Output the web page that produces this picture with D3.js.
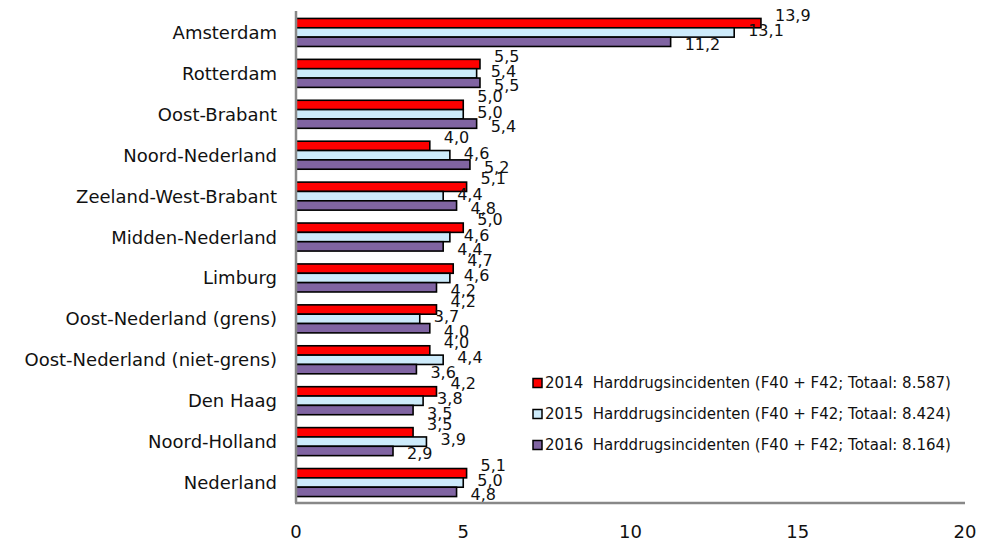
<!DOCTYPE html>
<html>
<head>
<meta charset="utf-8">
<script src="https://cdn.jsdelivr.net/npm/d3@7"></script>
<style>
  body { margin: 0; background: #fff; }
  svg { display: block; font-family: "DejaVu Sans", sans-serif; }
  .bar { stroke: #000; stroke-width: 1.6; }
  .axis-line { stroke: #888; stroke-width: 2.5; }
  .legend-text { white-space: pre; }
</style>
</head>
<body>
<div id="chart"></div>
<script>
// regions, top to bottom
const regions = [
  "Amsterdam", "Rotterdam", "Oost-Brabant", "Noord-Nederland",
  "Zeeland-West-Brabant", "Midden-Nederland", "Limburg",
  "Oost-Nederland (grens)", "Oost-Nederland (niet-grens)",
  "Den Haag", "Noord-Holland", "Nederland"
];

const years = ["2014", "2015", "2016"];
const legendLabels = [
  "2014  Harddrugsincidenten (F40 + F42; Totaal: 8.587)",
  "2015  Harddrugsincidenten (F40 + F42; Totaal: 8.424)",
  "2016  Harddrugsincidenten (F40 + F42; Totaal: 8.164)"
];

const values2014 = [13.9, 5.5, 5.0, 4.0, 5.1, 5.0, 4.7, 4.2, 4.0, 4.2, 3.5, 5.1];
const values2015 = [13.1, 5.4, 5.0, 4.6, 4.4, 4.6, 4.6, 3.7, 4.4, 3.8, 3.9, 5.0];
const values2016 = [11.2, 5.5, 5.4, 5.2, 4.8, 4.4, 4.2, 4.0, 3.6, 3.5, 2.9, 4.8];

const xTicks = [0, 5, 10, 15, 20];

const colors = ["#ff0000", "#cdebfb", "#8064a2"];

const width = 981, height = 543;
const plot = { left: 296, right: 965, top: 12, bottom: 503 };

const svg = d3.select("#chart").append("svg")
  .attr("width", width)
  .attr("height", height);

const xScale = d3.scaleLinear()
  .domain([0, 20])
  .range([plot.left, plot.right]);

const yScale = d3.scaleBand()
  .domain(regions)
  .range([plot.top, plot.bottom])
  .paddingInner(0.315)
  .paddingOuter(0.1575);

const ySub = d3.scaleBand()
  .domain(years)
  .range([0, yScale.bandwidth()]);

const rows = regions.map((r, i) => ({
  region: r,
  vals: [values2014[i], values2015[i], values2016[i]]
}));

// bars
const groups = svg.selectAll("g.region")
  .data(rows)
  .join("g")
    .attr("class", "region")
    .attr("transform", d => `translate(0, ${yScale(d.region)})`);

groups.selectAll("rect")
  .data(d => d.vals.map((v, j) => ({ year: years[j], v, j })))
  .join("rect")
    .attr("class", "bar")
    .attr("x", xScale(0))
    .attr("y", d => ySub(d.year))
    .attr("width", d => xScale(d.v) - xScale(0))
    .attr("height", ySub.bandwidth())
    .attr("fill", d => colors[d.j]);

// value labels, shifted a bit like the original
const labelDy = [-8, -2, 3];
groups.selectAll("text.val")
  .data(d => d.vals.map((v, j) => ({ year: years[j], v, j })))
  .join("text")
    .attr("class", "val")
    .attr("x", d => xScale(d.v) + 14)
    .attr("y", d => ySub(d.year) + ySub.bandwidth() / 2 + labelDy[d.j])
    .attr("dominant-baseline", "central")
    .style("font-size", "16px")
    .style("fill", "#111")
    .text(d => d3.format(".1f")(d.v).replace(".", ","));

// axes lines
svg.append("line")
  .attr("class", "axis-line")
  .attr("x1", plot.left).attr("x2", plot.left)
  .attr("y1", plot.top - 1).attr("y2", plot.bottom);

svg.append("line")
  .attr("class", "axis-line")
  .attr("x1", plot.left - 1).attr("x2", plot.right)
  .attr("y1", plot.bottom).attr("y2", plot.bottom);

// category labels
svg.selectAll("text.cat")
  .data(regions)
  .join("text")
    .attr("class", "cat")
    .attr("x", 277)
    .attr("y", d => yScale(d) + yScale.bandwidth() / 2)
    .attr("text-anchor", "end")
    .attr("dominant-baseline", "central")
    .style("font-size", "18px")
    .style("fill", "#111")
    .text(d => d);

// x tick labels
svg.selectAll("text.tick")
  .data(xTicks)
  .join("text")
    .attr("class", "tick")
    .attr("x", d => xScale(d))
    .attr("y", 531)
    .attr("text-anchor", "middle")
    .attr("dominant-baseline", "central")
    .style("font-size", "18px")
    .style("fill", "#111")
    .text(d => d);

// legend
const legend = svg.append("g")
  .attr("transform", "translate(533, 383)");

const item = legend.selectAll("g")
  .data(legendLabels)
  .join("g")
    .attr("transform", (d, i) => `translate(0, ${i * 31})`);

item.append("rect")
  .attr("x", 0).attr("y", -4.5)
  .attr("width", 9).attr("height", 9)
  .attr("fill", (d, i) => colors[i])
  .attr("stroke", "#000")
  .attr("stroke-width", 1.5);

item.append("text")
  .attr("class", "legend-text")
  .attr("x", 12)
  .attr("y", 0)
  .attr("dominant-baseline", "central")
  .style("font-size", "15px")
  .style("fill", "#111")
  .text(d => d);
</script>
</body>
</html>
